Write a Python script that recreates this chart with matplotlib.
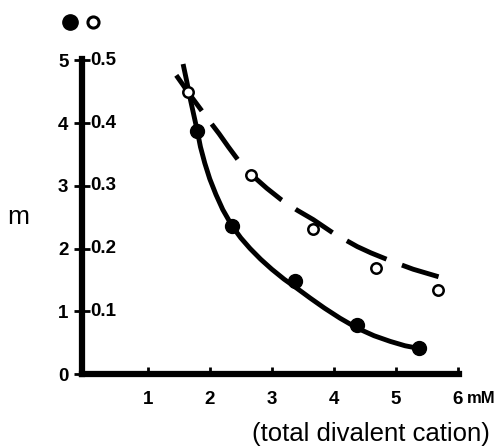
import matplotlib

matplotlib.use("Agg")
import matplotlib.pyplot as plt
from matplotlib.lines import Line2D

plt.rcParams["font.family"] = ["Liberation Sans", "DejaVu Sans"]

# measured points: filled circles (left scale) and open circles (right scale)
filled_x = [1.80, 2.36, 3.37, 4.38, 5.37]
filled_y = [3.87, 2.36, 1.49, 0.78, 0.41]
open_x = [1.65, 2.66, 3.66, 4.68, 5.68]
open_y = [4.49, 3.17, 2.31, 1.69, 1.34]

# hand-drawn fit curves
solid_x = [1.57, 1.63, 1.68, 1.74, 1.80, 1.85, 1.92, 2.00, 2.10, 2.21, 2.36, 2.50, 2.65, 2.82,
           3.00, 3.20, 3.40, 3.62, 3.85, 4.10, 4.38, 4.65, 4.91, 5.15, 5.36]
solid_y = [4.94, 4.66, 4.41, 4.14, 3.87, 3.62, 3.36, 3.11, 2.86, 2.62, 2.36, 2.17, 2.00, 1.83,
           1.67, 1.51, 1.37, 1.21, 1.05, 0.89, 0.73, 0.61, 0.52, 0.45, 0.41]
dashed_x = [1.46, 1.56, 1.65, 1.80, 1.98, 2.15, 2.30, 2.48, 2.68, 2.92, 3.15, 3.41, 3.67, 4.00,
            4.38, 4.60, 4.95, 5.28, 5.69]
dashed_y = [4.76, 4.62, 4.49, 4.29, 4.05, 3.83, 3.62, 3.38, 3.17, 2.96, 2.78, 2.61, 2.46, 2.24,
            2.03, 1.93, 1.79, 1.67, 1.55]

x_ticks = [1, 2, 3, 4, 5, 6]
x_labels = ["1", "2", "3", "4", "5", "6"]
y_ticks = [0, 1, 2, 3, 4, 5]
y_labels = ["0", "1", "2", "3", "4", "5"]
right_ticks = [1, 2, 3, 4, 5]
right_labels = ["0.1", "0.2", "0.3", "0.4", "0.5"]

fig = plt.figure(figsize=(5.01, 4.47), dpi=100)
ax = fig.add_axes([0.1637, 0.1633, 0.7525, 0.7047])

ax.plot(solid_x, solid_y, color="black", lw=3.5, solid_capstyle="butt", solid_joinstyle="round", zorder=2)
ax.plot(dashed_x, dashed_y, color="black", lw=3.5, dashes=(9.0, 3.4), dash_capstyle="butt", zorder=2)
ax.plot(filled_x, filled_y, "o", color="black", ms=10, zorder=3)
ax.plot(open_x, open_y, "o", mfc="white", mec="black", mew=1.8, ms=7.5, zorder=3)

ax.set_xlim(-0.06, 6.02)
ax.set_ylim(0, 5.02)
for side in ("top", "right"):
    ax.spines[side].set_visible(False)
for side in ("left", "bottom"):
    ax.spines[side].set_linewidth(4.5)
    ax.spines[side].set_zorder(4)

ax.set_xticks(x_ticks, x_labels, fontsize=13.5, fontweight="bold")
ax.set_yticks(y_ticks, y_labels, fontsize=13.5, fontweight="bold")
ax.tick_params(axis="x", direction="in", length=5, width=2, pad=12.5)
ax.tick_params(axis="y", direction="inout", length=11.5, width=2, pad=4.0)

for t, lab in zip(right_ticks, right_labels):
    ax.annotate(lab, xy=(0, t), xycoords=("axes fraction", "data"),
                xytext=(6.0, 0), textcoords="offset points",
                ha="left", va="center", fontsize=13.5, fontweight="bold")

ax.annotate("mM", xy=(6, 0), xycoords="data", xytext=(6.5, -20.8), textcoords="offset points",
            ha="left", va="baseline", fontsize=12, fontweight="bold")

fig.text(371 / 501, 1 - 434 / 447, "(total divalent cation)", ha="center", va="center", fontsize=18.5)
fig.text(18 / 501, 1 - 217 / 447, "m", ha="center", va="center", fontsize=19)

# symbol key at the top left
fig.add_artist(Line2D([70 / 501], [1 - 22 / 447], marker="o", ls="none", color="black",
                      ms=11, transform=fig.transFigure))
fig.add_artist(Line2D([93 / 501], [1 - 22 / 447], marker="o", ls="none", mfc="white",
                      mec="black", mew=2.2, ms=8, transform=fig.transFigure))

fig.savefig("out.png", dpi=100)
